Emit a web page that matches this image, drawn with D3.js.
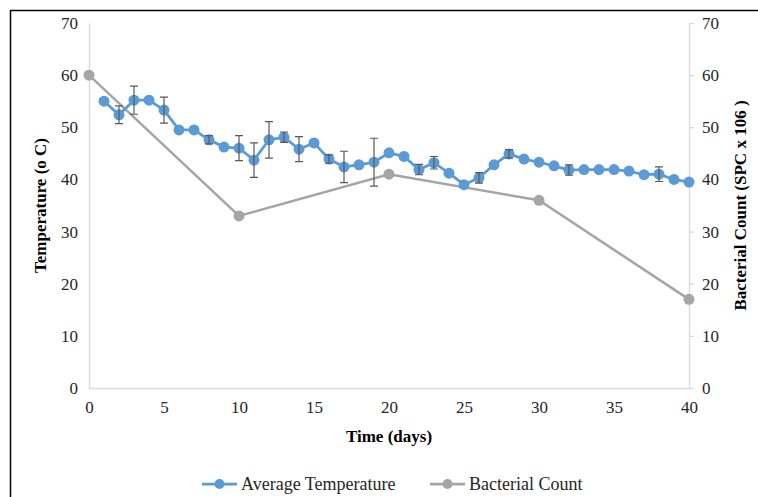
<!DOCTYPE html>
<html>
<head>
<meta charset="utf-8">
<script src="https://cdn.jsdelivr.net/npm/d3@7"></script>
<style>
  body { margin: 0; background: #fff; }
  svg { display: block; }
  svg text { font-family: "Liberation Serif", "Times New Roman", serif; }
</style>
</head>
<body>
<div id="graph"></div>
<script>
// Chart data
var days = d3.range(1, 41);
var avgTemp = [55.0, 52.4, 55.2, 55.2, 53.3, 49.5, 49.5, 47.6, 46.2, 46.0,
               43.7, 47.6, 48.1, 45.8, 47.0, 43.9, 42.4, 42.8, 43.3, 45.1,
               44.4, 41.9, 43.2, 41.2, 39.0, 40.3, 42.8, 44.9, 43.9, 43.3,
               42.6, 41.8, 41.9, 41.9, 41.9, 41.6, 40.9, 41.0, 40.0, 39.5];
var tempErr = [0, 1.7, 2.7, 0, 2.5, 0, 0, 0.8, 0, 2.4,
               3.3, 3.5, 1.0, 2.4, 0, 0.8, 3.0, 0, 4.6, 0,
               0, 1.0, 1.2, 0, 0, 1.0, 0, 0.8, 0, 0,
               0, 1.0, 0, 0, 0, 0, 0, 1.4, 0, 0];
var countDays = [0, 10, 20, 30, 40];
var bacterialCount = [60, 33, 41, 36, 17];
var xTicks = [0, 5, 10, 15, 20, 25, 30, 35, 40];
var yTicks = [0, 10, 20, 30, 40, 50, 60, 70];

var width = 758, height = 497;
var plot = { left: 89, top: 23, right: 689, bottom: 388 };
var blue = "#5b9bd5", grey = "#a5a5a5", axisCol = "#d9d9d9", textCol = "#262626";
var serif = "Liberation Serif, serif";

var svg = d3.select("#graph").append("svg")
  .attr("width", width)
  .attr("height", height);

svg.append("rect").attr("width", width).attr("height", height).attr("fill", "#fff");

// outer frame (cut off at right and bottom)
svg.append("path")
  .attr("d", "M10.5,497 L10.5,10.5 L758,10.5")
  .attr("fill", "none")
  .attr("stroke", "#000")
  .attr("stroke-width", 1.5);

var x = d3.scaleLinear().domain([0, 40]).range([plot.left, plot.right]);
var y = d3.scaleLinear().domain([0, 70]).range([plot.bottom, plot.top]);
var y2 = d3.scaleLinear().domain([0, 70]).range([plot.bottom, plot.top]);

// axes
var xAxis = svg.append("g")
  .attr("transform", "translate(0," + plot.bottom + ")")
  .call(d3.axisBottom(x).tickValues(xTicks).tickSize(0).tickPadding(12));
var yAxis = svg.append("g")
  .attr("transform", "translate(" + plot.left + ",0)")
  .call(d3.axisLeft(y).tickValues(yTicks).tickSize(0).tickPadding(11));
var y2Axis = svg.append("g")
  .attr("transform", "translate(" + plot.right + ",0)")
  .call(d3.axisRight(y2).tickValues(yTicks).tickSize(5).tickSizeOuter(0).tickPadding(8));

[xAxis, yAxis, y2Axis].forEach(function(g) {
  g.attr("font-family", serif).attr("font-size", 17);
  g.select(".domain").attr("stroke", axisCol).attr("stroke-width", 1.3);
  g.selectAll(".tick line").attr("stroke", axisCol).attr("stroke-width", 1.3);
  g.selectAll(".tick text").attr("fill", textCol);
});
xAxis.selectAll(".tick text").attr("dy", "0.75em");

// axis titles
function title(t) {
  return t.attr("text-anchor", "middle")
    .attr("font-family", serif)
    .attr("font-size", 17)
    .attr("font-weight", "bold")
    .attr("fill", "#000");
}
title(svg.append("text")
  .attr("x", (plot.left + plot.right) / 2)
  .attr("y", 442))
  .text("Time (days)");

title(svg.append("text")
  .attr("transform", "translate(46," + ((plot.top + plot.bottom) / 2) + ") rotate(-90)"))
  .text("Temperature (o C)");

title(svg.append("text")
  .attr("transform", "translate(746," + ((plot.top + plot.bottom) / 2) + ") rotate(-90)"))
  .text("Bacterial Count (SPC x 106 )");

// bacterial count series (secondary axis)
var countData = countDays.map(function(d, i) { return { day: d, value: bacterialCount[i] }; });
svg.append("path")
  .datum(countData)
  .attr("fill", "none")
  .attr("stroke", grey)
  .attr("stroke-width", 2.5)
  .attr("d", d3.line().x(function(d) { return x(d.day); }).y(function(d) { return y2(d.value); }));
svg.selectAll(".count-pt")
  .data(countData)
  .enter().append("circle")
  .attr("cx", function(d) { return x(d.day); })
  .attr("cy", function(d) { return y2(d.value); })
  .attr("r", 5.5)
  .attr("fill", grey);

// average temperature series
var tempData = days.map(function(d, i) { return { day: d, value: avgTemp[i], err: tempErr[i] }; });
svg.append("path")
  .datum(tempData)
  .attr("fill", "none")
  .attr("stroke", blue)
  .attr("stroke-width", 2.75)
  .attr("d", d3.line().x(function(d) { return x(d.day); }).y(function(d) { return y(d.value); }));
svg.selectAll(".temp-pt")
  .data(tempData)
  .enter().append("circle")
  .attr("cx", function(d) { return x(d.day); })
  .attr("cy", function(d) { return y(d.value); })
  .attr("r", 5.5)
  .attr("fill", blue);

// error bars
var errG = svg.append("g").attr("stroke", "#595959").attr("stroke-width", 1.2).attr("fill", "none");
tempData.filter(function(d) { return d.err > 0; }).forEach(function(d) {
  var cx = x(d.day), top = y(d.value + d.err), bot = y(d.value - d.err);
  errG.append("path")
    .attr("d", "M" + cx + "," + top + "V" + bot +
               "M" + (cx - 4) + "," + top + "H" + (cx + 4) +
               "M" + (cx - 4) + "," + bot + "H" + (cx + 4));
});

// legend
var legend = [
  { name: "Average Temperature", color: blue, x: 202 },
  { name: "Bacterial Count", color: grey, x: 430 }
];
var lg = svg.selectAll(".legend").data(legend).enter().append("g")
  .attr("transform", function(d) { return "translate(" + d.x + ",484)"; });
lg.append("line").attr("x1", 0).attr("x2", 35).attr("stroke", function(d) { return d.color; }).attr("stroke-width", 2.75);
lg.append("circle").attr("cx", 17.5).attr("r", 5).attr("fill", function(d) { return d.color; });
lg.append("text")
  .attr("x", 39)
  .attr("dy", "0.35em")
  .attr("fill", textCol)
  .attr("font-family", serif)
  .attr("font-size", 18)
  .text(function(d) { return d.name; });
</script>
</body>
</html>
